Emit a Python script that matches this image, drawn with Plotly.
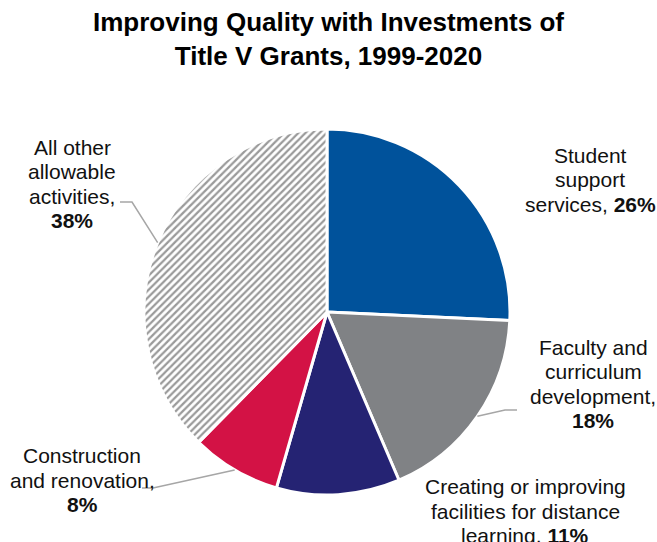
import math
import plotly.graph_objects as go

# Share of Title V grant investments by activity, 1999-2020
categories = [
    "Student support services",
    "Faculty and curriculum development",
    "Creating or improving facilities for distance learning",
    "Construction and renovation",
    "All other allowable activities",
]
values = [26, 18, 11, 8, 38]
label_lines = [
    ["Student", "support", "services, <b>26%</b>"],
    ["Faculty and", "curriculum", "development,", "<b>18%</b>"],
    ["Creating or improving", "facilities for distance", "learning, <b>11%</b>"],
    ["Construction", "and renovation,", "<b>8%</b>"],
    ["All other", "allowable", "activities,", "<b>38%</b>"],
]
colors = ["#00529B", "#808285", "#252373", "#D31245", "#FFFFFF"]

W, H = 657, 542
FONT = "Arial, 'Liberation Sans', sans-serif"
LINE_GAP = 24.5

# pie placement (pixels)
cx, cy, r = 327, 312, 183
dom_x = [(cx - r) / W, (cx + r) / W]
dom_y = [1 - (cy + r) / H, 1 - (cy - r) / H]

fig = go.Figure(
    go.Pie(
        labels=categories,
        values=values,
        sort=False,
        direction="clockwise",
        rotation=0,
        textinfo="none",
        hoverinfo="label+percent",
        marker=dict(
            colors=colors,
            line=dict(color="white", width=3),
            pattern=dict(
                shape=["", "", "", "", "/"],
                fgcolor="#9A9A9A",
                bgcolor="white",
                size=5,
                solidity=0.45,
            ),
        ),
        domain=dict(x=dom_x, y=dom_y),
        showlegend=False,
    )
)

# label placement (pixel centres) and leader-line routing
label_pos = [(590, 180), (593, 384), (525, 511), (82, 480), (72, 184)]
leader_route = {
    1: [(505, 410), (517, 410)],
    3: [(153, 488), (142, 488)],
    4: [(132, 202), (120, 202)],
}


def to_paper(px, py):
    return px / W, 1 - py / H


for lines, (lx, ly) in zip(label_lines, label_pos):
    n = len(lines)
    for k, line in enumerate(lines):
        py = ly + (k - (n - 1) / 2) * LINE_GAP
        ax, ay = to_paper(lx, py)
        fig.add_annotation(
            x=ax, y=ay, xref="paper", yref="paper",
            text=line, showarrow=False, align="center",
            xanchor="center", yanchor="middle",
            font=dict(family=FONT, size=21, color="#111111"),
        )

total = sum(values)
cum = 0
for i, v in enumerate(values):
    mid = (cum + v / 2) / total * 2 * math.pi
    cum += v
    if i not in leader_route:
        continue
    sx = cx + r * math.sin(mid)
    sy = cy - r * math.cos(mid)
    pts = [(sx, sy)] + leader_route[i]
    path = ""
    for j, (px, py) in enumerate(pts):
        qx, qy = to_paper(px, py)
        path += ("M" if j == 0 else " L") + f" {qx:.5f},{qy:.5f}"
    fig.add_shape(
        type="path", path=path, xref="paper", yref="paper",
        line=dict(color="#A6A6A6", width=1.5),
    )

fig.update_layout(
    width=W,
    height=H,
    margin=dict(l=0, r=0, t=0, b=0),
    paper_bgcolor="white",
    plot_bgcolor="white",
    title=dict(
        text="<b>Improving Quality with Investments of<br>Title V Grants, 1999-2020</b>",
        x=0.5, xanchor="center",
        y=1 - 31 / H, yanchor="middle",
        font=dict(family=FONT, size=26, color="#000000"),
    ),
)

fig.write_html("out.html")
